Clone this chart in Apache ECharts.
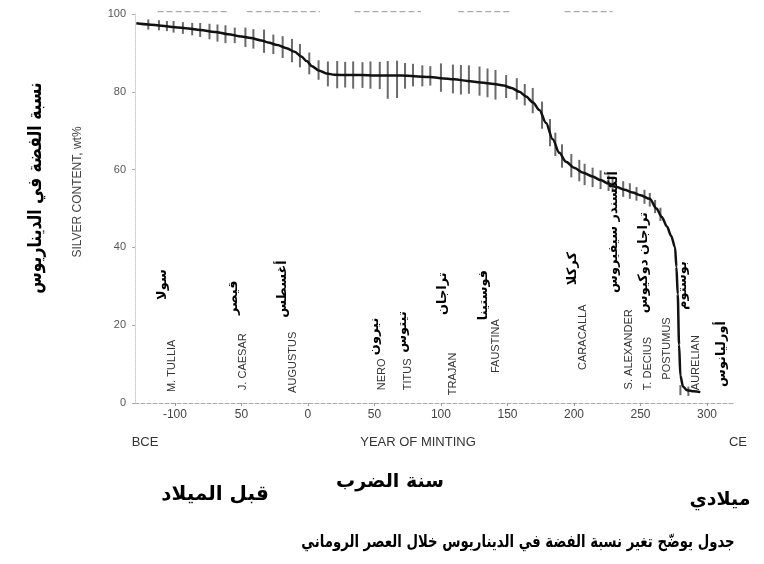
<!DOCTYPE html>
<html><head><meta charset="utf-8">
<script src="https://cdn.jsdelivr.net/npm/echarts@6/dist/echarts.min.js"></script>
<style>html,body{margin:0;padding:0;background:#fff}#c{width:764px;height:564px}</style>
</head><body><div id="c"></div>
<script>
// ---- data ----
const curveYears = [-129,-120,-110,-100,-90,-81,-70,-60,-50,-43,-35,-30,-23,-16,-10,-5,-1,3,8,14,20,30,40,50,60,70,80,92,100,110,120,130,140,147,153,159,164,169,174,179,184,189,194,200,207,214,220,226,232,238,244,250,257,262,266,270,273,276,277,278,279,280,282,285,290,295];
const curveSilver = [97.6,97.3,97.0,96.6,96.3,95.9,95.4,94.8,94.2,93.8,93.2,92.7,92.0,91.2,90.3,89.1,87.9,86.6,85.5,84.7,84.4,84.3,84.3,84.2,84.2,84.2,84.0,83.8,83.5,83.2,82.8,82.4,82.0,81.6,81.0,80.0,78.8,77.3,75.3,72.0,67.8,64.3,62.0,60.5,59.2,58.2,57.3,56.4,55.5,54.8,54.1,53.4,52.5,50.0,47.8,45.3,43.0,40.0,35,28,15,7,4.2,3.3,3.0,2.8];
const errYears = [-120,-112,-106,-101,-94,-87,-81,-74,-68,-62,-55,-47,-41,-33,-26,-19,-12,-6,1,8,15,22,28,34,41,47,54,60,67,73,79,86,92,100,109,115,121,129,135,141,149,157,163,169,176,182,186,191,198,204,208,214,220,226,229,237,242,247,253,257,261,265,280,286];
const errLow = [96.0,95.8,95.6,95.2,94.9,94.5,94.1,93.5,92.9,92.5,92.5,91.5,91.1,90.0,89.7,88.7,87.6,86.3,84.5,83.1,81.4,80.9,81.1,80.8,81.0,80.8,80.7,78.2,78.4,80.8,81.4,81.4,81.6,80.0,79.6,79.3,79.5,79.0,78.6,78.0,78.4,78.0,76.5,74.5,70.5,66.0,63.5,60.5,58.0,57.0,56.0,55.5,55.0,54.5,54.2,53.0,52.5,52.0,51.2,50.5,48.8,46.8,2.0,1.8];
const errHigh = [98.6,98.4,98.2,98.2,97.9,97.7,97.7,97.5,97.3,97.1,96.5,96.5,96.1,96.0,94.7,94.3,93.6,92.3,90.1,88.1,87.8,87.9,87.7,87.8,87.6,87.8,87.7,87.9,88.0,87.4,87.2,86.8,86.6,87.3,87.0,86.9,86.8,86.5,86.0,85.6,84.3,83.5,82.0,81.0,77.5,73.0,69.5,66.5,64.0,62.5,61.5,60.5,59.8,58.5,57.8,57.0,56.5,55.5,54.8,54.0,52.2,50.2,4.6,4.2];
const xTickValues = [-100,-50,0,50,100,150,200,250,300];
const xTickLabels = ['-100','50','0','50','100','150','200','250','300'];
const rulerNames = ['M. TULLIA','J. CAESAR','AUGUSTUS','NERO','TITUS','TRAJAN','FAUSTINA','CARACALLA','S. ALEXANDER','T. DECIUS','POSTUMUS','AURELIAN'];
const rulerNamesAr = ['سولا','قيصر','أغسطس','نيرون','تيتوس','تراجان','فوستينا','كركلا','ألكسندر سيفيروس','تراجان دوكيوس','بوستوم','أورليانوس'];
// label anchor layout (year, value at text bottom)
const enLabelAt = [[-102,2.8],[-49,3.3],[-11,2.6],[56,3.3],[75,3.3],[109,2.0],[141,7.7],[207,8.5],[241,3.5],[256,3.3],[270,6.0],[292,3.3]];
const arLabelAt = [[-109,26.5],[-56,22.6],[-19,21.9],[50,12.3],[71,12.9],[101,22.6],[132,21.3],[199,30.3],[230,28.3],[252,23.1],[282,23.9],[311,4.1]];
const topRule = [[-113,-61],[-46,9],[35,85],[113,152],[193,229]];

const AR = '"DejaVu Sans", sans-serif';
const EN = '"Liberation Sans", Arial, sans-serif';

const chart = echarts.init(document.getElementById('c'), null, {renderer:'canvas'});
const option = {
  backgroundColor:'#fff',
  animation:false,
  grid:{left:135, right:30.4, top:14, bottom:161},
  xAxis:{type:'value', min:-130, max:320,
    axisLine:{show:true, onZero:false, lineStyle:{color:'#aaa', type:'dashed', width:1}},
    axisTick:{show:true, customValues:xTickValues, length:3, lineStyle:{color:'#999'}},
    axisLabel:{customValues:xTickValues, margin:6, color:'#444', fontFamily:EN, fontSize:12,
      formatter:v=>xTickLabels[xTickValues.indexOf(v)] ?? ''},
    splitLine:{show:false}},
  yAxis:{type:'value', min:0, max:100, interval:20,
    axisLine:{show:true, onZero:false, lineStyle:{color:'#ccc', type:'dotted'}},
    axisTick:{show:true, length:3, lineStyle:{color:'#aaa'}},
    axisLabel:{margin:9, color:'#555', fontFamily:EN, fontSize:11},
    splitLine:{show:false}},
  series:[
    {type:'custom', name:'top', clip:false, silent:true,
      data:topRule.map(s=>[s[0],s[1]]),
      renderItem:(p,api)=>{const a=api.coord([api.value(0),100.6]);const b=api.coord([api.value(1),100.6]);
        return {type:'line',shape:{x1:a[0],y1:a[1],x2:b[0],y2:b[1]},style:{stroke:'#aaa',lineWidth:1.3,lineDash:[6,3]}};}},
    {type:'custom', name:'err', clip:false,
      data:errYears.map((y,i)=>[y,errLow[i],errHigh[i]]),
      renderItem:(p,api)=>{const a=api.coord([api.value(0),api.value(1)]);const b=api.coord([api.value(0),api.value(2)]);
        return {type:'line',shape:{x1:a[0],y1:a[1],x2:b[0],y2:b[1]},style:{stroke:'#6a6a6a',lineWidth:2}};}},
    {type:'line', name:'silver', data:curveYears.map((y,i)=>[y,curveSilver[i]]),
      smooth:0.3, smoothMonotone:'x', showSymbol:false, lineStyle:{color:'#111', width:2.5}},
    {type:'custom', name:'en', clip:false,
      data:enLabelAt.map((p,i)=>[p[0],p[1],i]),
      renderItem:(p,api)=>{const c=api.coord([api.value(0),api.value(1)]);
        return {type:'text',x:c[0],y:c[1],rotation:Math.PI/2,
          style:{text:rulerNames[api.value(2)],x:0,y:0,align:'left',verticalAlign:'middle',font:'11px '+EN,fill:'#333'}};}},
    {type:'custom', name:'ar', clip:false,
      data:arLabelAt.map((p,i)=>[p[0],p[1],i]),
      renderItem:(p,api)=>{const c=api.coord([api.value(0),api.value(1)]);
        return {type:'text',x:c[0],y:c[1],rotation:Math.PI/2,
          style:{text:rulerNamesAr[api.value(2)],x:0,y:0,align:'left',verticalAlign:'middle',font:'bold 13px '+AR,fill:'#000'}};}}
  ],
  graphic:[
    {type:'text', x:78, y:192, rotation:Math.PI/2, style:{text:'SILVER CONTENT, wt%', align:'center', verticalAlign:'middle', font:'12px '+EN, fill:'#444'}},
    {type:'text', x:36, y:188, rotation:Math.PI/2, scaleX:0.82, style:{text:'نسبة الفضة في الديناريوس', align:'center', verticalAlign:'middle', font:'bold 19px '+AR, fill:'#000'}},
    {type:'text', x:145, y:442, style:{text:'BCE', align:'center', verticalAlign:'middle', font:'13px '+EN, fill:'#333'}},
    {type:'text', x:418, y:442, style:{text:'YEAR OF MINTING', align:'center', verticalAlign:'middle', font:'13px '+EN, fill:'#333'}},
    {type:'text', x:738, y:442, style:{text:'CE', align:'center', verticalAlign:'middle', font:'13px '+EN, fill:'#333'}},
    {type:'text', x:215, y:495, style:{text:'قبل الميلاد', align:'center', verticalAlign:'middle', font:'bold 20px '+AR, fill:'#000'}},
    {type:'text', x:390, y:482, style:{text:'سنة الضرب', align:'center', verticalAlign:'middle', font:'bold 19px '+AR, fill:'#000'}},
    {type:'text', x:720, y:500, style:{text:'ميلادي', align:'center', verticalAlign:'middle', font:'bold 19px '+AR, fill:'#000'}},
    {type:'text', x:518, y:543, scaleX:0.78, style:{text:'جدول يوضّح تغير نسبة الفضة في الديناريوس خلال العصر الروماني', align:'center', verticalAlign:'middle', font:'bold 17px '+AR, fill:'#000'}}
  ]
};
chart.setOption(option);
</script></body></html>
